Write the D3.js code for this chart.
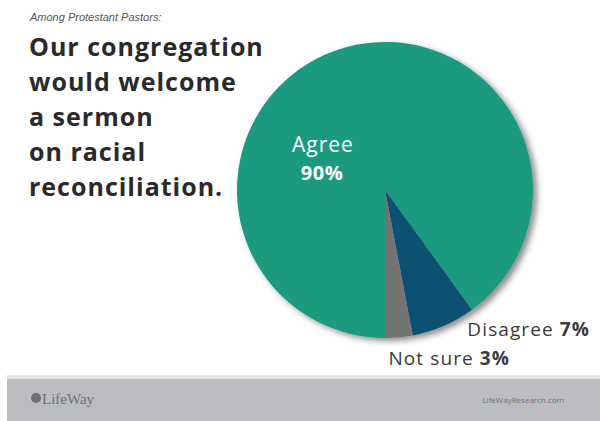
<!DOCTYPE html>
<html>
<head>
<meta charset="utf-8">
<script src="https://cdn.jsdelivr.net/npm/d3@7.9.0/dist/d3.min.js"></script>
<style>
  body { margin: 0; background: #fff; }
  svg { display: block; font-family: "Open Sans", Lato, sans-serif; }
</style>
</head>
<body>
<svg width="600" height="421"></svg>
<script>
// data
const labels = ['Agree', 'Disagree', 'Not sure'];
const values = [90, 7, 3];
const colors = ['#1b9a80', '#0e5172', '#737373'];
const titleLines = ['Our congregation', 'would welcome', 'a sermon', 'on racial', 'reconciliation.'];

const svg = d3.select('svg');

// drop shadow for the pie
let defs = svg.append('defs');
let f = defs.append('filter').attr('id', 'shadow')
  .attr('x', '-10%').attr('y', '-10%').attr('width', '130%').attr('height', '130%');
f.append('feDropShadow')
  .attr('dx', 4).attr('dy', 3).attr('stdDeviation', 3)
  .attr('flood-color', '#000').attr('flood-opacity', 0.45);

// subtitle + title
svg.append('text')
  .attr('x', 30).attr('y', 21)
  .attr('font-size', 11).attr('font-style', 'italic')
  .attr('fill', '#555')
  .attr('font-family', 'Liberation Sans, Arial, sans-serif')
  .text('Among Protestant Pastors:');

svg.append('g').selectAll('text')
  .data(titleLines)
  .join('text')
  .attr('x', 29)
  .attr('y', (d, i) => 56 + i * 35)
  .attr('font-size', 25)
  .attr('font-weight', 'bold')
  .attr('letter-spacing', 1)
  .attr('fill', '#2a2a2a')
  .text(d => d);

// pie
const cx = 385, cy = 190, r = 148;
let pie = d3.pie().sort(null).value(d => d)
  .startAngle(Math.PI).endAngle(3 * Math.PI);
let arc = d3.arc().innerRadius(0).outerRadius(r);
let arcData = pie(values);

let g = svg.append('g')
  .attr('transform', `translate(${cx},${cy})`)
  .attr('filter', 'url(#shadow)');

g.selectAll('path')
  .data(arcData)
  .join('path')
  .attr('d', arc)
  .attr('fill', (d, i) => colors[i]);

// labels
svg.append('text')
  .attr('x', 323).attr('y', 152)
  .attr('text-anchor', 'middle')
  .attr('font-size', 21).attr('letter-spacing', 1).attr('fill', '#fff')
  .text(labels[0]);
svg.append('text')
  .attr('x', 322).attr('y', 180)
  .attr('text-anchor', 'middle')
  .attr('font-size', 20).attr('font-weight', 'bold').attr('letter-spacing', 0.5).attr('fill', '#fff')
  .text(values[0] + '%');

let outer = [
  { i: 1, x: 590, y: 336 },
  { i: 2, x: 510, y: 365 }
];
outer.forEach(o => {
  let t = svg.append('text')
    .attr('x', o.x).attr('y', o.y)
    .attr('text-anchor', 'end')
    .attr('font-size', 19).attr('letter-spacing', 1.1).attr('fill', '#3a3a3a');
  t.append('tspan').text(labels[o.i] + ' ');
  t.append('tspan').attr('font-weight', 'bold').text(values[o.i] + '%');
});

// footer band
svg.append('rect').attr('x', 7).attr('y', 375).attr('width', 593).attr('height', 4).attr('fill', '#e6e6e8');
svg.append('rect')
  .attr('x', 7).attr('y', 379)
  .attr('width', 593).attr('height', 42)
  .attr('fill', '#bcbdc1');

svg.append('circle').attr('cx', 36).attr('cy', 398).attr('r', 5).attr('fill', '#6e6f73');
svg.append('text')
  .attr('x', 42).attr('y', 404)
  .attr('font-size', 15)
  .attr('font-family', 'Liberation Serif, serif')
  .attr('fill', '#6e6f73')
  .text('LifeWay');
svg.append('text')
  .attr('x', 564).attr('y', 403)
  .attr('text-anchor', 'end')
  .attr('font-size', 8)
  .attr('fill', '#6e6f73')
  .text('LifeWayResearch.com');
</script>
</body>
</html>
